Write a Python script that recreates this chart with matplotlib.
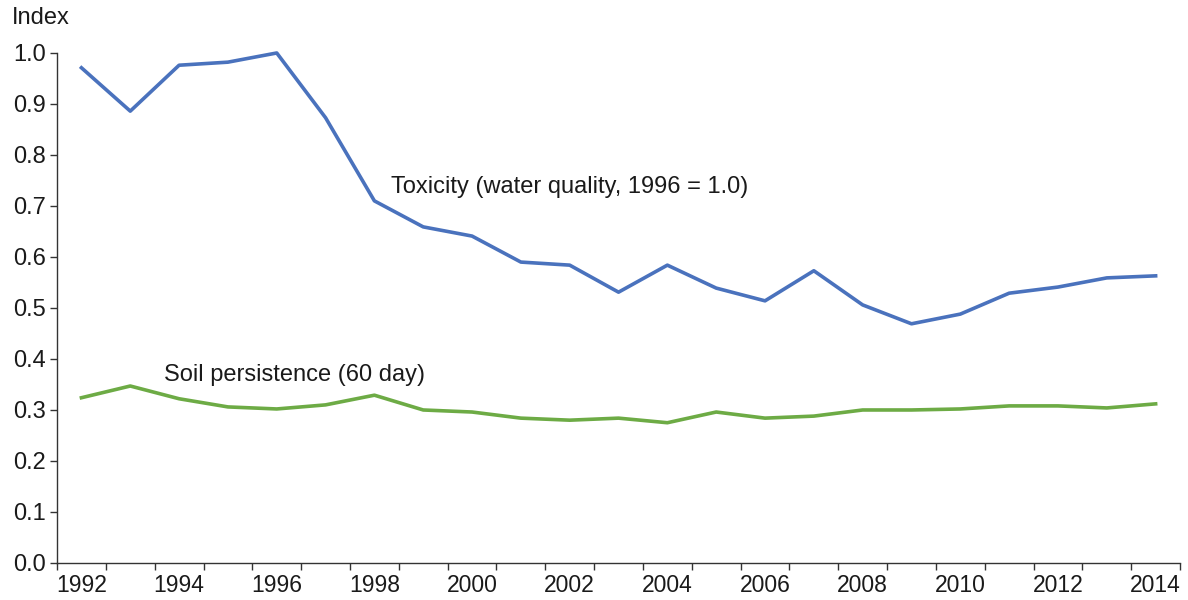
import matplotlib.pyplot as plt
from matplotlib.ticker import MultipleLocator

plt.rcParams['font.family'] = ['Liberation Sans', 'DejaVu Sans']

years = list(range(1992, 2015))
toxicity = [0.971, 0.886, 0.976, 0.982, 1.000, 0.873, 0.710, 0.659, 0.641, 0.590,
            0.584, 0.531, 0.584, 0.539, 0.514, 0.573, 0.506, 0.469, 0.488, 0.529,
            0.541, 0.559, 0.563]
soil = [0.324, 0.347, 0.322, 0.306, 0.302, 0.310, 0.329, 0.300, 0.296, 0.284,
        0.280, 0.284, 0.275, 0.296, 0.284, 0.288, 0.300, 0.300, 0.302, 0.308,
        0.308, 0.304, 0.312]
label_years = list(range(1992, 2015, 2))

fig = plt.figure(figsize=(11.88, 6), dpi=100)
ax = fig.add_axes([0.048, 0.0617, 0.9453, 0.85])

ax.plot(years, toxicity, color='#4a72bd', lw=2.6, clip_on=False)
ax.plot(years, soil, color='#6dab45', lw=2.6, clip_on=False)

ax.text(1998.35, 0.737, 'Toxicity (water quality, 1996 = 1.0)', fontsize=17,
        va='center', ha='left', color='#1a1a1a')
ax.text(1993.7, 0.369, 'Soil persistence (60 day)', fontsize=17,
        va='center', ha='left', color='#1a1a1a')

ax.set_xlim(1991.5, 2014.5)
ax.set_ylim(0, 1.0)
ax.set_xticks(label_years)
ax.set_xticklabels([str(y) for y in label_years])
ax.xaxis.set_minor_locator(MultipleLocator(1, offset=0.5))
ax.tick_params(axis='x', which='major', length=0, pad=8, labelsize=16.5, labelcolor='#1a1a1a')
ax.tick_params(axis='x', which='minor', length=5, width=1, color='#333333')
ax.set_yticks([i / 10 for i in range(11)])
ax.set_yticklabels([f'{i / 10:.1f}' for i in range(11)])
ax.tick_params(axis='y', length=5, width=1, color='#333333', labelsize=17,
               labelcolor='#1a1a1a', pad=3)

for s in ['top', 'right']:
    ax.spines[s].set_visible(False)
for s in ['left', 'bottom']:
    ax.spines[s].set_color('#333333')
    ax.spines[s].set_linewidth(1)

fig.text(12 / 1188, 1 - 18 / 600, 'Index', fontsize=17, ha='left', va='center',
         color='#1a1a1a')

fig.savefig('out.png', dpi=100)
